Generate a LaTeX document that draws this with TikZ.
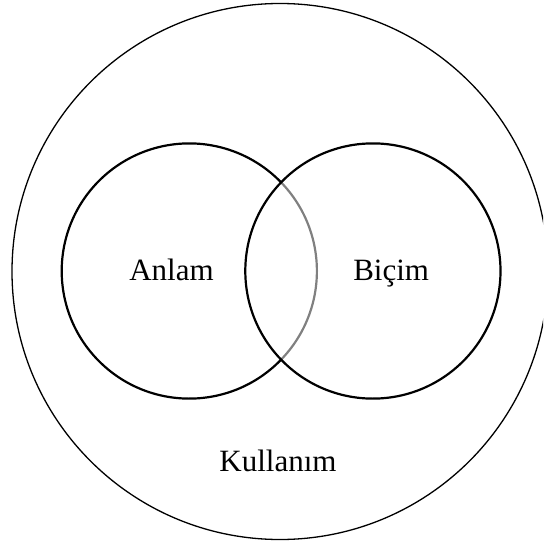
\documentclass[tikz,border=0pt]{standalone}
\usepackage{fontspec}
\setmainfont{Liberation Serif}
\begin{document}
\begin{tikzpicture}[x=1pt,y=-1pt,
  ring/.style={circle,draw=black,line width=2.2pt,inner sep=0pt},
  arcline/.style={line width=2.2pt},
  outerring/.style={circle,draw=black,line width=1.3pt,inner sep=0pt,minimum size=536pt},
  lbl/.style={font=\fontsize{31}{31}\selectfont,anchor=base,inner sep=0pt}]
\useasboundingbox (0,0) rectangle (543,545);
\clip (0,0) rectangle (543,545);
\node[outerring] (O) at (280,271.5) {};
\node[circle,inner sep=0pt,minimum size=255.2pt] (L) at (189.3,271) {};
\draw[arcline,black] (L.center) ++(44:127.6) arc[start angle=44,end angle=316,radius=127.6];
\draw[arcline,black!50] (L.center) ++(-44:127.6) arc[start angle=-44,end angle=44,radius=127.6];
\node[ring,minimum size=255.2pt] (R) at (372.9,271) {};
\node[lbl] (a) at (171.5,280.6) {Anlam};
\node[lbl] (b) at (391.2,280.6) {Biçim};
\node[lbl] (k) at (278,471.8) {Kullanım};
\end{tikzpicture}
\end{document}
